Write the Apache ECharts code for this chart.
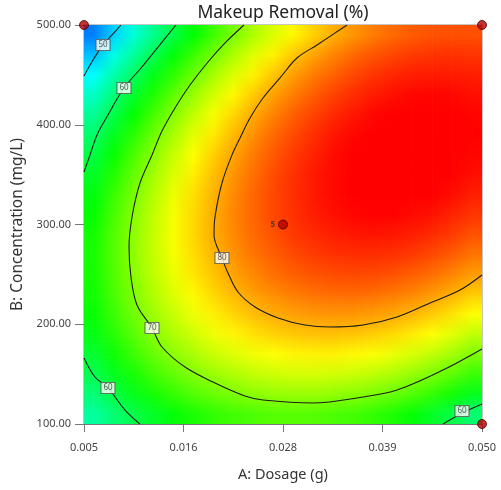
<!DOCTYPE html>
<html><head><meta charset="utf-8">
<script src="https://cdn.jsdelivr.net/npm/echarts@6.0.0/dist/echarts.min.js"></script>
<style>html,body{margin:0;padding:0;background:#fff}#chart{width:501px;height:490px}</style>
</head><body><div id="chart"></div>
<script>
// Grid of estimated response values (cell centres)
const dosage = [0.006125,0.008375,0.010625,0.012875,0.015125,0.017375,0.019625,0.021875,0.024125,0.026375,0.028625,0.030875,0.033125,0.035375,0.037625,0.039875,0.042125,0.044375,0.046625,0.048875];
const concentration = [110,130,150,170,190,210,230,250,270,290,310,330,350,370,390,410,430,450,470,490];
const removal = [
[56.5,58.7,60.6,62.3,63.8,65.1,66.1,66.9,67.5,67.9,68.0,67.9,67.5,67.0,66.2,65.2,63.9,62.4,60.7,58.8],
[58.6,60.9,62.9,64.8,66.3,67.7,68.8,69.7,70.4,70.9,71.1,71.1,70.8,70.4,69.7,68.8,67.6,66.2,64.6,62.8],
[60.4,62.8,64.9,66.9,68.5,70.0,71.2,72.2,73.0,73.6,73.9,74.0,73.8,73.5,72.9,72.1,71.0,69.7,68.2,66.5],
[61.9,64.4,66.7,68.7,70.5,72.0,73.4,74.5,75.3,76.0,76.4,76.6,76.6,76.3,75.8,75.1,74.1,73.0,71.6,69.9],
[63.2,65.7,68.1,70.2,72.1,73.7,75.2,76.4,77.3,78.1,78.6,78.9,79.0,78.8,78.4,77.8,76.9,75.9,74.6,73.0],
[64.1,66.7,69.2,71.4,73.4,75.2,76.7,78.0,79.1,79.9,80.5,80.9,81.1,81.0,80.7,80.2,79.5,78.5,77.3,75.9],
[64.7,67.5,70.0,72.3,74.4,76.3,77.9,79.3,80.5,81.4,82.2,82.7,82.9,83.0,82.8,82.3,81.7,80.8,79.7,78.4],
[65.0,67.9,70.5,73.0,75.1,77.1,78.8,80.3,81.6,82.7,83.5,84.1,84.4,84.6,84.5,84.2,83.6,82.8,81.8,80.6],
[65.1,68.0,70.8,73.3,75.6,77.6,79.5,81.1,82.5,83.6,84.5,85.2,85.7,85.9,85.9,85.7,85.3,84.6,83.7,82.5],
[64.8,67.9,70.7,73.3,75.7,77.9,79.8,81.5,83.0,84.2,85.3,86.0,86.6,86.9,87.1,86.9,86.6,86.0,85.2,84.2],
[64.2,67.4,70.4,73.1,75.6,77.8,79.8,81.7,83.2,84.6,85.7,86.6,87.3,87.7,87.9,87.9,87.6,87.2,86.4,85.5],
[63.4,66.7,69.7,72.5,75.1,77.5,79.6,81.5,83.2,84.6,85.8,86.8,87.6,88.1,88.4,88.5,88.4,88.0,87.4,86.6],
[62.2,65.6,68.7,71.7,74.3,76.8,79.0,81.0,82.8,84.4,85.7,86.8,87.6,88.3,88.7,88.9,88.8,88.5,88.0,87.3],
[60.8,64.3,67.5,70.5,73.3,75.9,78.2,80.3,82.2,83.8,85.2,86.4,87.4,88.1,88.6,88.9,89.0,88.8,88.4,87.8],
[59.0,62.6,66.0,69.1,72.0,74.6,77.0,79.3,81.2,83.0,84.5,85.8,86.9,87.7,88.3,88.7,88.8,88.8,88.4,87.9],
[57.0,60.7,64.1,67.3,70.3,73.1,75.6,77.9,80.0,81.8,83.5,84.8,86.0,86.9,87.7,88.1,88.4,88.4,88.2,87.8],
[54.7,58.4,62.0,65.3,68.4,71.2,73.9,76.3,78.5,80.4,82.1,83.6,84.9,85.9,86.7,87.3,87.7,87.8,87.7,87.3],
[52.0,55.9,59.5,63.0,66.1,69.1,71.8,74.3,76.6,78.7,80.5,82.1,83.4,84.6,85.5,86.2,86.6,86.8,86.8,86.6],
[49.1,53.1,56.8,60.3,63.6,66.7,69.5,72.1,74.5,76.6,78.6,80.3,81.7,83.0,84.0,84.7,85.3,85.6,85.7,85.6],
[45.9,49.9,53.8,57.4,60.8,64.0,66.9,69.6,72.1,74.3,76.3,78.1,79.7,81.0,82.1,83.0,83.7,84.1,84.3,84.3]
];

// Axis ticks
const xTickValues = [0.005, 0.01625, 0.0275, 0.03875, 0.05];
const xTickLabels = ['0.005', '0.016', '0.028', '0.039', '0.050'];
const yTickLabels = ['100.00', '200.00', '300.00', '400.00', '500.00'];

// Contour lines: [dosage (g), concentration (mg/L)]
const contour50 = [[0.00918,500],[0.00817,490.0],[0.00715,480.0],[0.00602,464.9],[0.005,448.9]];
const contour60Top = [[0.01540,500],[0.01337,477.9],[0.01145,456.9],[0.00952,436.8],[0.00771,409.8],[0.00647,389.7],[0.00568,369.7],[0.005,352.6]];
const contour60Left = [[0.005,166.2],[0.00624,147.1],[0.00771,136.1],[0.00964,114.0],[0.01133,100]];
const contour60Right = [[0.04559,100],[0.04774,110.8],[0.05,120.0]];
const contour70 = [[0.02309,500],[0.02106,483.0],[0.01902,462.9],[0.01699,439.8],[0.01529,416.8],[0.01382,393.7],[0.01269,369.7],[0.01133,341.6],[0.01043,307.5],[0.01009,277.4],[0.01031,247.4],[0.01099,219.3],[0.01269,196.2],[0.01382,177.2],[0.01642,157.1],[0.01981,141.1],[0.02320,128.1],[0.02524,124.1],[0.03089,121.1],[0.03655,127.1],[0.04039,134.1],[0.04559,154.1],[0.05,175.2]];
const contour80 = [[0.03474,500],[0.03135,480.0],[0.02908,466.9],[0.02716,446.9],[0.02524,426.8],[0.02377,406.8],[0.02264,386.7],[0.02173,369.7],[0.02060,341.6],[0.01981,307.5],[0.01970,289.5],[0.0206,266.4],[0.02128,251.4],[0.02241,232.3],[0.02434,217.3],[0.02694,206.3],[0.02999,199.2],[0.03282,197.2],[0.03655,199.2],[0.04039,207.3],[0.04412,221.3],[0.04751,234.3],[0.05,249.4]];

// Contour labels
const contourLabelText = ['50', '60', '70', '80', '60', '60'];
const contourLabelDosage = [0.00715, 0.00952, 0.01269, 0.0206, 0.00771, 0.04774];
const contourLabelConc = [480.0, 436.8, 196.2, 266.4, 136.1, 113.0];

// Design points
const designDosage = [0.005, 0.05, 0.05, 0.0275];
const designConc = [500, 500, 100, 300];
const designReplicates = ['', '', '', '5'];

const FONT = 'Noto Sans';
const X_MIN = 0.005, X_MAX = 0.05, Y_MIN = 100, Y_MAX = 500;
const V_MIN = 40, V_MAX = 88;
const PALETTE = ['#0000ff', '#00ffff', '#00ff00', '#ffff00', '#ff0000'];
const NX = dosage.length, NY = concentration.length;
const stepA = dosage[1] - dosage[0];
const stepB = concentration[1] - concentration[0];

// colour of a grid cell through ECharts' colour scale helper
const cellColor = [];
for (let j = 0; j < NY; j++) {
  cellColor.push(removal[j].map(v => echarts.color.lerp(Math.max(0, Math.min(1, (v - V_MIN) / (V_MAX - V_MIN))), PALETTE)));
}

const cells = [];
concentration.forEach((c, j) => dosage.forEach((d, i) => cells.push([d, c, removal[j][i], i, j])));

const STRIP = 2;
function renderCell(params, api) {
  const i = api.value(3), j = api.value(4);
  const i1 = Math.min(i + 1, NX - 1), j1 = Math.min(j + 1, NY - 1);
  const pA = api.coord([dosage[i], concentration[j]]);
  const pB = api.coord([dosage[i] + stepA, concentration[j] + stepB]);
  const x0 = i === 0 ? api.coord([X_MIN, Y_MIN])[0] : pA[0];
  const x1 = i === NX - 1 ? api.coord([X_MAX, Y_MIN])[0] : pB[0];
  const yBottom = j === 0 ? api.coord([X_MIN, Y_MIN])[1] : pA[1];
  const yTop = j === NY - 1 ? api.coord([X_MIN, Y_MAX])[1] : pB[1];
  const c00 = cellColor[j][i], c10 = cellColor[j][i1], c01 = cellColor[j1][i], c11 = cellColor[j1][i1];
  const children = [];
  for (let y = yTop; y < yBottom; y += STRIP) {
    const h = Math.min(STRIP, yBottom - y);
    const ym = y + h / 2;
    const t = Math.max(0, Math.min(1, (pA[1] - ym) / (pA[1] - pB[1])));
    const left = echarts.color.lerp(t, [c00, c01]);
    const right = echarts.color.lerp(t, [c10, c11]);
    children.push({ type: 'rect', silent: true,
      shape: { x: x0, y: y, width: x1 - x0 + 0.6, height: h + 0.6 },
      style: { fill: { type: 'linear', x: pA[0], y: 0, x2: pB[0], y2: 0, global: true,
        colorStops: [{ offset: 0, color: left }, { offset: 1, color: right }] } } });
  }
  return { type: 'group', children };
}

function contourSeries(pts) {
  return { type: 'line', data: pts, smooth: 0.35, symbol: 'none', silent: true, z: 3,
    lineStyle: { color: '#1c1c1c', width: 1.1 }, clip: true };
}

const chart = echarts.init(document.getElementById('chart'), null, { renderer: 'canvas' });
chart.setOption({
  animation: false,
  title: { text: 'Makeup Removal (%)', left: 278, top: -1, textAlign: 'center',
    textStyle: { fontFamily: FONT, fontSize: 17.5, fontWeight: 'normal', color: '#222' } },
  grid: { left: 84, right: 19, top: 25, bottom: 66, show: true, borderColor: '#8a8a8a', borderWidth: 1, backgroundColor: 'transparent' },
  xAxis: {
    type: 'value', min: X_MIN, max: X_MAX,
    name: 'A: Dosage (g)', nameLocation: 'middle', nameGap: 43,
    nameTextStyle: { fontFamily: FONT, fontSize: 14.5, color: '#333' },
    axisLine: { lineStyle: { color: '#777' } },
    axisTick: { show: true, length: 8, customValues: xTickValues, lineStyle: { color: '#777' } },
    axisLabel: { customValues: xTickValues, margin: 18, fontFamily: FONT, fontSize: 11, color: '#444',
      formatter: (v) => { let k = 0, best = 1; xTickValues.forEach((t, i) => { if (Math.abs(t - v) < best) { best = Math.abs(t - v); k = i; } }); return xTickLabels[k]; } },
    splitLine: { show: false }
  },
  yAxis: {
    type: 'value', min: Y_MIN, max: Y_MAX, interval: 100,
    name: 'B: Concentration (mg/L)', nameLocation: 'middle', nameGap: 54,
    nameTextStyle: { fontFamily: FONT, fontSize: 15.5, color: '#333' },
    axisLine: { show: true, lineStyle: { color: '#777' } },
    axisTick: { show: true, length: 9, lineStyle: { color: '#777' } },
    axisLabel: { margin: 13, fontFamily: FONT, fontSize: 11, color: '#444',
      formatter: (v) => yTickLabels[Math.round((v - Y_MIN) / 100)] },
    splitLine: { show: false }
  },
  series: [
    { type: 'custom', data: cells, clip: true, silent: true, z: 1,
      encode: { x: 0, y: 1 }, renderItem: renderCell },
    contourSeries(contour50),
    contourSeries(contour60Top),
    contourSeries(contour60Left),
    contourSeries(contour60Right),
    contourSeries(contour70),
    contourSeries(contour80),
    { type: 'scatter', z: 4, silent: true, clip: false,
      data: contourLabelText.map((t, i) => ({ value: [contourLabelDosage[i], contourLabelConc[i]], name: t })),
      symbol: 'rect', symbolSize: [14, 11],
      itemStyle: { color: '#ffffff', borderColor: '#555', borderWidth: 1 },
      label: { show: true, position: 'inside', formatter: (p) => p.name, fontFamily: FONT, fontSize: 8, color: '#333' } },
    { type: 'scatter', z: 5, silent: true, clip: false,
      data: designDosage.map((d, i) => ({ value: [d, designConc[i]], name: designReplicates[i] })),
      symbol: 'circle', symbolSize: 9,
      itemStyle: { color: '#b30000', borderColor: '#4a0000', borderWidth: 1 },
      label: { show: true, position: 'left', distance: 3, formatter: (p) => p.name, fontFamily: FONT, fontSize: 8, fontWeight: 'bold', color: '#333' } }
  ]
});
</script></body></html>
